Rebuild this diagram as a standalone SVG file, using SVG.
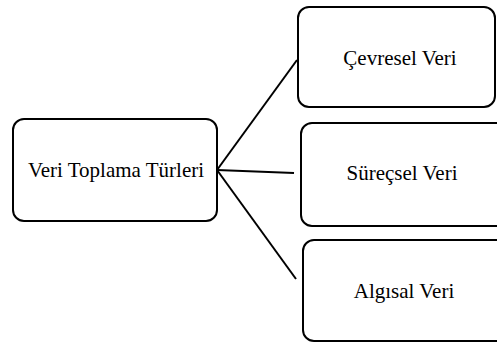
<svg xmlns="http://www.w3.org/2000/svg" width="497" height="342" viewBox="0 0 497 342">
<style>
.box{fill:#fff;stroke:#000;stroke-width:2}
.t{font-family:"Liberation Serif","Times New Roman",serif;font-size:21px;fill:#000;text-anchor:middle}
.c{stroke:#000;stroke-width:2;fill:none}
</style>
<rect width="497" height="342" fill="#fff"/>
<g id="connectors">
<line class="c" x1="217" y1="170" x2="297" y2="60"/>
<line class="c" x1="217" y1="170" x2="294" y2="173"/>
<line class="c" x1="217" y1="170" x2="296" y2="279"/>
</g>
<g id="root">
<rect class="box" x="13" y="119" width="204" height="102" rx="11"/>
<text class="t" x="116" y="177">Veri Toplama Türleri</text>
</g>
<g id="cevresel">
<rect class="box" x="298" y="7" width="197" height="100" rx="11"/>
<text class="t" x="400" y="65">Çevresel Veri</text>
</g>
<g id="surecsel">
<rect class="box" x="301" y="123" width="210" height="103" rx="11"/>
<text class="t" x="402" y="180">Süreçsel Veri</text>
</g>
<g id="algisal">
<rect class="box" x="303" y="240" width="210" height="101" rx="11"/>
<text class="t" x="404" y="298">Algısal Veri</text>
</g>
</svg>
